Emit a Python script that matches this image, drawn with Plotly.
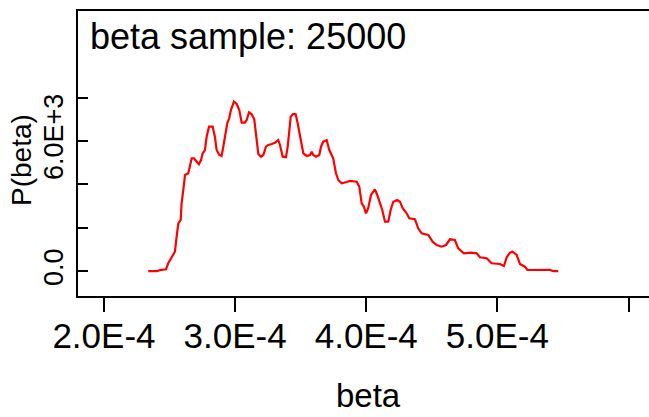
import plotly.graph_objects as go

beta = [
    2.338e-4, 2.402e-4, 2.427e-4, 2.473e-4, 2.490e-4, 2.516e-4, 2.541e-4, 2.554e-4,
    2.567e-4, 2.585e-4, 2.592e-4, 2.605e-4, 2.618e-4, 2.643e-4, 2.656e-4, 2.669e-4,
    2.686e-4, 2.707e-4, 2.724e-4, 2.740e-4, 2.753e-4, 2.770e-4, 2.783e-4, 2.801e-4,
    2.829e-4, 2.846e-4, 2.859e-4, 2.879e-4, 2.897e-4, 2.910e-4, 2.923e-4, 2.940e-4,
    2.955e-4, 2.968e-4, 2.991e-4, 3.012e-4, 3.032e-4, 3.050e-4, 3.075e-4, 3.088e-4,
    3.106e-4, 3.126e-4, 3.146e-4, 3.159e-4, 3.177e-4, 3.197e-4, 3.215e-4, 3.235e-4,
    3.253e-4, 3.279e-4, 3.304e-4, 3.329e-4, 3.342e-4, 3.363e-4, 3.388e-4, 3.401e-4,
    3.413e-4, 3.424e-4, 3.443e-4, 3.462e-4, 3.477e-4, 3.494e-4, 3.520e-4, 3.546e-4,
    3.571e-4, 3.584e-4, 3.596e-4, 3.617e-4, 3.642e-4, 3.655e-4, 3.672e-4, 3.698e-4,
    3.718e-4, 3.748e-4, 3.769e-4, 3.787e-4, 3.812e-4, 3.851e-4, 3.876e-4, 3.927e-4,
    3.947e-4, 3.965e-4, 3.982e-4, 3.998e-4, 4.015e-4, 4.036e-4, 4.066e-4, 4.084e-4,
    4.104e-4, 4.122e-4, 4.143e-4, 4.168e-4, 4.186e-4, 4.206e-4, 4.236e-4, 4.257e-4,
    4.278e-4, 4.308e-4, 4.328e-4, 4.371e-4, 4.396e-4, 4.422e-4, 4.473e-4, 4.506e-4,
    4.537e-4, 4.575e-4, 4.608e-4, 4.638e-4, 4.676e-4, 4.701e-4, 4.745e-4, 4.796e-4,
    4.842e-4, 4.867e-4, 4.918e-4, 4.956e-4, 5.019e-4, 5.050e-4, 5.071e-4, 5.096e-4,
    5.116e-4, 5.147e-4, 5.172e-4, 5.210e-4, 5.228e-4, 5.273e-4, 5.401e-4, 5.426e-4,
    5.464e-4,
]

# P(beta) density values
density = [
    0, 0, 50, 90, 364, 668, 899, 1590,
    2207, 2360, 3129, 3742, 4433, 4511, 4894, 5203,
    5203, 5046, 4926, 5124, 5433, 5585, 6198, 6659,
    6659, 6198, 5585, 5355, 5309, 5737, 6276, 6815,
    7046, 7428, 7811, 7705, 7428, 6843, 6843, 6968,
    7322, 7230, 7000, 6355, 5401, 5276, 5355, 5737,
    5816, 5862, 5922, 6046, 5816, 5276, 5249, 5737,
    6507, 7120, 7244, 7230, 6815, 6198, 5433, 5309,
    5355, 5507, 5355, 5276, 5355, 5737, 5968, 6046,
    5585, 5203, 4511, 4203, 4051, 4111, 4157, 4124,
    3894, 3129, 2972, 2668, 2899, 3512, 3774, 3512,
    3129, 2820, 2281, 2281, 2820, 3203, 3281, 3203,
    2899, 2668, 2438, 2392, 1977, 1747, 1668, 1360,
    1208, 1129, 1208, 1470, 1438, 1055, 825, 853,
    825, 641, 595, 364, 332, 240, 641, 853,
    899, 747, 332, 208, 56, 60, 60, 0,
    0,
]

x_tickvals = [2.0e-4, 3.0e-4, 4.0e-4, 5.0e-4, 6.0e-4]
x_ticktext = ["2.0E-4", "3.0E-4", "4.0E-4", "5.0E-4", ""]
y_tickvals = [0, 2000, 4000, 6000, 8000]
y_ticktext = ["0.0", "", "", "6.0E+3", ""]

title_text = "beta sample: 25000"
x_title = "beta"
y_title = "P(beta)"

FONT = "Liberation Sans, Arial, sans-serif"

fig = go.Figure()
fig.add_trace(go.Scatter(
    x=beta, y=density, mode="lines",
    line=dict(color="#ff0000", width=2.2),
    hoverinfo="skip", showlegend=False,
))

fig.update_layout(
    width=649, height=417,
    margin=dict(l=78, r=0, t=11, b=121, pad=0),
    paper_bgcolor="white", plot_bgcolor="white",
    font=dict(family=FONT, color="black"),
    showlegend=False,
    xaxis=dict(
        range=[1.802e-4, 6.156e-4],
        tickmode="array", tickvals=x_tickvals, ticktext=x_ticktext,
        ticks="outside", ticklen=14, tickwidth=1.5, tickcolor="black",
        showline=True, linecolor="black", linewidth=1.5, mirror=True,
        showgrid=False, zeroline=False,
        tickfont=dict(size=35, family=FONT, color="black"),
        ticklabelstandoff=-6,
    ),
    yaxis=dict(
        range=[-1143, 11990],
        tickmode="array", tickvals=y_tickvals, ticktext=y_ticktext,
        ticks="inside", ticklen=10, tickwidth=1.5, tickcolor="black",
        showline=True, linecolor="black", linewidth=1.5, mirror=False,
        showgrid=False, zeroline=False,
        tickangle=-90,
        tickfont=dict(size=27, family=FONT, color="black"),
        ticklabelstandoff=2,
    ),
    annotations=[
        dict(text=title_text, xref="paper", yref="paper",
             x=(88 - 78) / 571, y=(296 - 37) / 285,
             xanchor="left", yanchor="middle", showarrow=False,
             font=dict(size=36, family=FONT, color="black")),
        dict(text=x_title, xref="paper", yref="paper",
             x=(368 - 78) / 571, y=(296 - 395) / 285,
             xanchor="center", yanchor="middle", showarrow=False,
             font=dict(size=33, family=FONT, color="black")),
        dict(text=y_title, xref="paper", yref="paper",
             x=(21 - 78) / 571, y=(296 - 160) / 285,
             xanchor="center", yanchor="middle", showarrow=False,
             textangle=-90,
             font=dict(size=28, family=FONT, color="black")),
    ],
)

fig.write_html("out.html")
